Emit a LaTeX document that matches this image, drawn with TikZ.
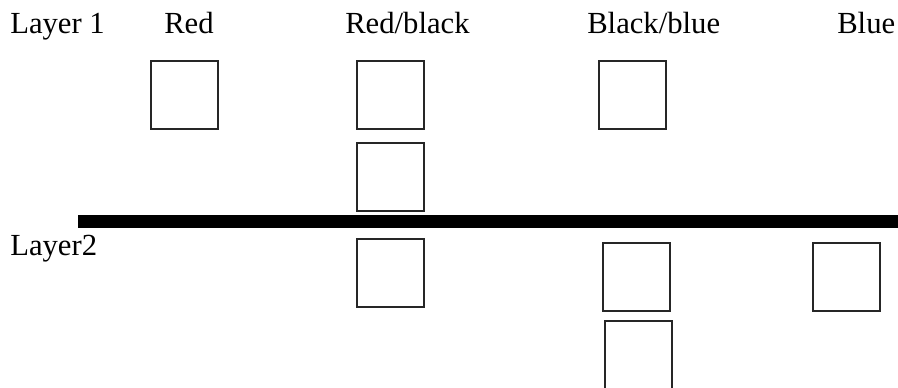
\documentclass[tikz,border=0pt]{standalone}
\usepackage{fontspec}
\setmainfont{Liberation Serif}
\usepackage{tikz}
\usetikzlibrary{positioning}

\begin{document}
\begin{tikzpicture}[x=0.75pt, y=-0.75pt,
  cell/.style={draw=black!85, line width=1.4pt, minimum size=50.6pt, inner sep=0pt},
  lbl/.style={anchor=base west, inner sep=0pt, font=\fontsize{23}{27}\selectfont}]
  \useasboundingbox (0,0) rectangle (898,387);
  \clip (0,0) rectangle (898,387);
  % labels
  \node[lbl] (l1) at (10,33) {Layer 1};
  \node[lbl] (red) at (164,33) {Red};
  \node[lbl] (rb) at (345,33) {Red/black};
  \node[lbl] (bb) at (587,33) {Black/blue};
  \node[lbl] (blue) at (837,33) {Blue};
  \node[lbl] (l2) at (10,255) {Layer2};
  % layer 1
  \node[cell] (red-1) at (184.5,95) {};
  \node[cell] (rb-1) at (390.5,95) {};
  \node[cell] (rb-2) at (390.5,177) {};
  \node[cell] (bb-1) at (632.5,95) {};
  % separator
  \fill (78,215) rectangle (898,228);
  % layer 2
  \node[cell] (rb-3) at (390.5,273) {};
  \node[cell] (bb-2) at (636.5,277) {};
  \node[cell] (bb-3) at (638.5,355) {};
  \node[cell] (blue-1) at (846.5,277) {};
\end{tikzpicture}
\end{document}
